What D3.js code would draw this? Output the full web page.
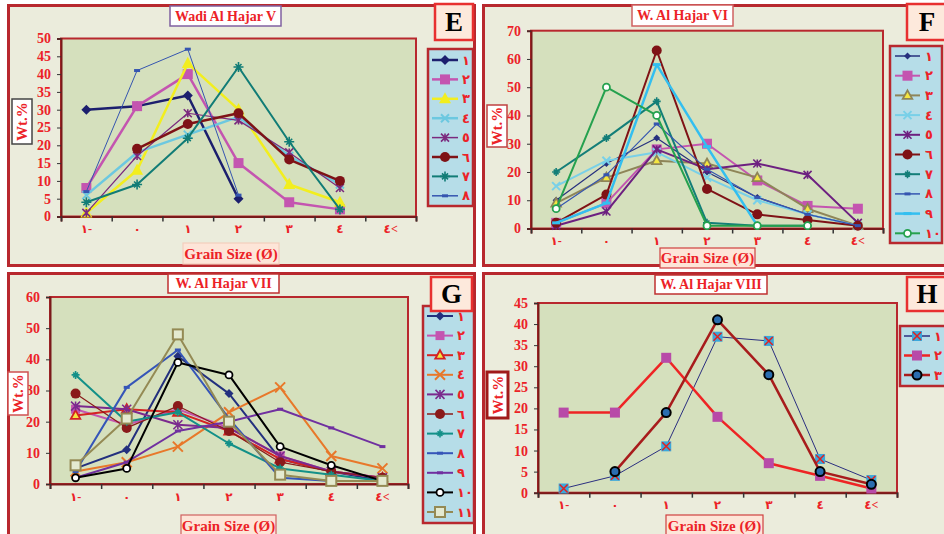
<!DOCTYPE html>
<html><head><meta charset="utf-8">
<script src="https://cdn.jsdelivr.net/npm/d3@7"></script>
<style>body{margin:0;background:#fff;} svg{display:block;}</style>
</head><body>
<svg id="c" width="944" height="534"></svg>
<script>
// ---------------- DATA ----------------
const categories = ["١-","٠","١","٢","٣","٤","٤<"];
const legendLabels = ["١","٢","٣","٤","٥","٦","٧","٨","٩","١٠","١١"];

const yTicksE = [0,5,10,15,20,25,30,35,40,45,50];
const yTicksF = [0,10,20,30,40,50,60,70];
const yTicksG = [0,10,20,30,40,50,60];
const yTicksH = [0,5,10,15,20,25,30,35,40,45];

const titleE = "Wadi Al Hajar V";
const titleF = "W. Al Hajar VI";
const titleG = "W. Al Hajar  VII";
const titleH = "W. Al Hajar VIII";
const xTitle = "Grain Size (Ø)";
const xTitleH = "Grain  Size (Ø)";
const yTitle = "Wt.%";

const valuesE = [
  [30,31,34,5],
  [8,31,40,15,4,2],
  [1,13,43,30,9,4],
  [6,18,23,28,17,9],
  [1,17,29,27,18,8],
  [null,19,26,29,16,10],
  [4,9,22,42,21,2],
  [7,41,47,6]
];
const valuesF = [
  [10,23,32,20,11,5,1],
  [2,9,28,30,17,8,7],
  [9,18,24,23,18,7,1],
  [15,24,27,18,10,5,1],
  [1,6,28,21,23,19,2],
  [2,12,63,14,5,3,1],
  [20,32,45,2,1,1],
  [7,19,37,21,11,5,1],
  [2,9,58,29,1],
  [7,50,40,1,1,1]
];
const valuesG = [
  [5,11,41,29,8,4,1],
  [24,19,24,18,9,4,2],
  [22,24,23,17,8,4,2],
  [4,7,12,23,31,9,5],
  [25,24,19,18,9,4,2],
  [29,18,25,17,7,4,2],
  [35,20,23,13,5,3,1],
  [4,31,43,21,2,1,1],
  [2,7,17,20,24,18,12],
  [2,5,39,35,12,6,1],
  [6,21,48,20,3,1,1]
];
const valuesH = [
  [1,4,11,37,36,8,3],
  [19,19,32,18,7,4,1],
  [null,5,19,41,28,5,2]
];

// ---------------- STYLES ----------------
const stylesE = [
  {c:'#1c1f6e',w:2.5,m:'diamond',r:5},
  {c:'#c455b0',w:2.5,m:'square',r:5},
  {c:'#f2ee1e',w:2.5,m:'triangle',r:6},
  {c:'#6cc8e0',w:2.5,m:'x',r:4},
  {c:'#7b2a7e',w:1.2,m:'asterisk',r:4},
  {c:'#7f1216',w:2.5,m:'circle',r:5},
  {c:'#117c76',w:2,m:'plus',r:5},
  {c:'#3555b0',w:1,m:'dash',r:3}
];
const stylesF = [
  {c:'#26307e',w:1.2,m:'diamond',r:3.5},
  {c:'#c455b0',w:2,m:'square',r:5},
  {c:'#8e8558',w:2,m:'tri_y',r:5},
  {c:'#78d0e8',w:2,m:'x',r:4},
  {c:'#6d2080',w:2,m:'asterisk',r:4},
  {c:'#7f1216',w:2,m:'circle',r:5},
  {c:'#137e78',w:2,m:'plus',r:4},
  {c:'#3555b0',w:1.2,m:'dash',r:3},
  {c:'#33bff0',w:2.5,m:'dash',r:4},
  {c:'#25a14e',w:2,m:'opencircle',r:3.5}
];
const stylesG = [
  {c:'#23307e',w:2,m:'diamond',r:4.5},
  {c:'#c455b0',w:2,m:'square',r:4.5},
  {c:'#d42323',w:2,m:'tri_y',r:5},
  {c:'#e8782a',w:2,m:'x',r:5},
  {c:'#7b2a8e',w:2,m:'asterisk',r:4.5},
  {c:'#8a1a1a',w:1.2,m:'circle',r:5},
  {c:'#139088',w:2,m:'plus',r:4},
  {c:'#3555b8',w:2,m:'dash',r:3},
  {c:'#7030a0',w:2,m:'dash',r:3},
  {c:'#000000',w:2,m:'opencircle',r:3.5},
  {c:'#948a54',w:2,m:'opensquare',r:5}
];
const stylesH = [
  {c:'#2b2f80',w:1,m:'xsquare',r:5},
  {c:'#ee2424',w:2.5,m:'square',r:5,mc:'#b84aa8'},
  {c:'#a81c1c',w:2.5,m:'bluecircle',r:4.5}
];

const SERIF = "'Liberation Serif','Times New Roman','DejaVu Serif','DejaVu Sans',serif";
const RED = '#ec2227';
const BORDER = '#b8282e';

const panels = [
  {box:[7,4,469,263], plot:{l:61,r:416,t:38.5,b:216.5}, yMax:50, yTicks:yTicksE, values:valuesE, styles:stylesE,
   title:titleE, titleBox:[170,6,111,20,'#8060a0'], letter:'E', letterBox:[435,4,38,36],
   legend:{box:[428,49,45,157], y0:60, step:19.4, x1:432, x2:458, lx:462},
   yBox:[12,99,20,45,'#444444',1.5], xBox:[183,243,96,21,'#f3cdbd'], xText:xTitle},
  {box:[482,4,470,263], plot:{l:531,r:883,t:30.7,b:228.5}, yMax:70, yTicks:yTicksF, values:valuesF, styles:stylesF,
   title:titleF, titleBox:[632,5,101,21,'#d06060'], letter:'F', letterBox:[907,4,40,36],
   legend:{box:[890,46,52,197], y0:56, step:19.7, x1:895, x2:920, lx:925},
   yBox:[487,105,20,42,'#c04040',1.5], xBox:[660,248,95,20,'#d04040'], xText:xTitle},
  {box:[7,272,469,266], plot:{l:50,r:408,t:297,b:484}, yMax:60, yTicks:yTicksG, values:valuesG, styles:stylesG,
   title:titleG, titleBox:[168,274,111,19,'#c03030'], letter:'G', letterBox:[431,277,41,34],
   legend:{box:[423,306,51,217], y0:316, step:19.6, x1:427, x2:453, lx:457},
   yBox:[8,372,20,43,'#d05050',1.5], xBox:[181,515,95,22,'#d06060'], xText:xTitle},
  {box:[482,272,470,266], plot:{l:538,r:897,t:303,b:492.7}, yMax:45, yTicks:yTicksH, values:valuesH, styles:stylesH,
   title:titleH, titleBox:[655,275,112,19,'#c03030'], letter:'H', letterBox:[907,277,40,34],
   legend:{box:[900,326,46,60], y0:336, step:19.5, x1:904, x2:930, lx:934},
   yBox:[487,372,21,46,'#a01a1a',3], xBox:[666,515,97,22,'#d04040'], xText:xTitleH}
];

function mark(g, s, cx, cy) {
  const c = s.mc || s.c, r = s.r;
  switch (s.m) {
    case 'diamond':
      g.append('path').attr('d',`M${cx},${cy-r}L${cx+r},${cy}L${cx},${cy+r}L${cx-r},${cy}Z`).attr('fill',c); break;
    case 'square':
      g.append('rect').attr('x',cx-r).attr('y',cy-r).attr('width',2*r).attr('height',2*r).attr('fill',c); break;
    case 'triangle':
      g.append('path').attr('d',`M${cx},${cy-r*1.1}L${cx+r},${cy+r*0.75}L${cx-r},${cy+r*0.75}Z`).attr('fill',c); break;
    case 'tri_y':
      g.append('path').attr('d',`M${cx},${cy-r*1.0}L${cx+r*0.95},${cy+r*0.7}L${cx-r*0.95},${cy+r*0.7}Z`).attr('fill','#f4e640').attr('stroke',c).attr('stroke-width',1.8); break;
    case 'circle':
      g.append('circle').attr('cx',cx).attr('cy',cy).attr('r',r).attr('fill',c); break;
    case 'x':
      g.append('path').attr('d',`M${cx-r},${cy-r}L${cx+r},${cy+r}M${cx-r},${cy+r}L${cx+r},${cy-r}`).attr('stroke',c).attr('stroke-width',2).attr('fill','none'); break;
    case 'asterisk':
      g.append('path').attr('d',`M${cx-r},${cy-r}L${cx+r},${cy+r}M${cx-r},${cy+r}L${cx+r},${cy-r}M${cx},${cy-r}L${cx},${cy+r}`).attr('stroke',c).attr('stroke-width',1.6).attr('fill','none'); break;
    case 'plus':
      g.append('path').attr('d',`M${cx-r},${cy}L${cx+r},${cy}M${cx},${cy-r}L${cx},${cy+r}M${cx-r*0.6},${cy-r*0.6}L${cx+r*0.6},${cy+r*0.6}M${cx-r*0.6},${cy+r*0.6}L${cx+r*0.6},${cy-r*0.6}`).attr('stroke',c).attr('stroke-width',1.6).attr('fill','none'); break;
    case 'dash':
      g.append('path').attr('d',`M${cx-r},${cy}L${cx+r},${cy}`).attr('stroke',c).attr('stroke-width',3).attr('fill','none'); break;
    case 'opencircle':
      g.append('circle').attr('cx',cx).attr('cy',cy).attr('r',r).attr('fill','#ffffff').attr('stroke',c).attr('stroke-width',1.8); break;
    case 'opensquare':
      g.append('rect').attr('x',cx-r).attr('y',cy-r).attr('width',2*r).attr('height',2*r).attr('fill','#e4ead0').attr('stroke',c).attr('stroke-width',2); break;
    case 'xsquare':
      g.append('rect').attr('x',cx-r).attr('y',cy-r).attr('width',2*r).attr('height',2*r).attr('fill','#3aa8dc');
      g.append('path').attr('d',`M${cx-r+1},${cy-r+1}L${cx+r-1},${cy+r-1}M${cx-r+1},${cy+r-1}L${cx+r-1},${cy-r+1}`).attr('stroke','#e02020').attr('stroke-width',1.5); break;
    case 'bluecircle':
      g.append('circle').attr('cx',cx).attr('cy',cy).attr('r',r).attr('fill','#2a6db0').attr('stroke','#000').attr('stroke-width',2); break;
  }
}

function boxText(g, b, fill, txt, size, color, rotate) {
  g.append('rect').attr('x',b[0]).attr('y',b[1]).attr('width',b[2]).attr('height',b[3])
    .attr('fill',fill).attr('stroke',b[4]).attr('stroke-width',b[5]||1.5);
  const cx = b[0]+b[2]/2, cy = b[1]+b[3]/2;
  const t = g.append('text').attr('x',cx).attr('y',cy).attr('text-anchor','middle').attr('dominant-baseline','central')
    .attr('font-family',SERIF).attr('font-weight','bold').attr('font-size',size).attr('fill',color).text(txt);
  if (rotate) t.attr('transform',`rotate(-90,${cx},${cy})`);
}

const svg = d3.select('#c');
svg.append('rect').attr('width',944).attr('height',534).attr('fill','#ffffff');

panels.forEach(p => {
  const g = svg.append('g');
  g.append('rect').attr('x',p.box[0]+1.5).attr('y',p.box[1]+1.5).attr('width',p.box[2]-3).attr('height',p.box[3]-3)
    .attr('fill','#ebecdc').attr('stroke',BORDER).attr('stroke-width',3);

  const x = d3.scaleBand().domain(categories).range([p.plot.l,p.plot.r]);
  const xl = d3.scaleLinear().domain([0,categories.length]).range([p.plot.l,p.plot.r]);
  const y = d3.scaleLinear().domain([0,p.yMax]).range([p.plot.b,p.plot.t]);

  g.append('rect').attr('x',p.plot.l).attr('y',p.plot.t).attr('width',p.plot.r-p.plot.l).attr('height',p.plot.b-p.plot.t)
    .attr('fill','#d5e0bd').attr('stroke',BORDER).attr('stroke-width',2);

  const ya = g.append('g').attr('transform',`translate(${p.plot.l},0)`)
    .call(d3.axisLeft(y).tickValues(p.yTicks).tickSize(4).tickPadding(6));
  ya.select('.domain').attr('stroke','#7a1a1a').attr('stroke-width',2);
  ya.selectAll('.tick line').attr('stroke','#333');
  ya.selectAll('text').attr('font-family',SERIF).attr('font-weight','bold').attr('font-size',14).attr('fill',RED);

  const xa = g.append('g').attr('transform',`translate(0,${p.plot.b})`)
    .call(d3.axisBottom(xl).tickValues(d3.range(categories.length+1)).tickSize(5).tickFormat(''));
  xa.select('.domain').attr('stroke','#7a1a1a').attr('stroke-width',2);
  xa.selectAll('.tick line').attr('stroke','#333').attr('stroke-width',1.5);

  const xb = g.append('g').attr('transform',`translate(0,${p.plot.b})`)
    .call(d3.axisBottom(x).tickSize(0).tickPadding(8));
  xb.select('.domain').remove();
  xb.selectAll('text').attr('font-family',SERIF).attr('font-weight','bold').attr('font-size',12).attr('fill',RED).attr('direction','ltr');

  const px = i => x(categories[i]) + x.bandwidth()/2;
  const line = d3.line().defined(d => d != null).x((d,i) => px(i)).y(d => y(d));
  p.values.forEach((vals, si) => {
    const s = p.styles[si];
    const sg = g.append('g');
    sg.append('path').datum(vals).attr('d', line).attr('fill','none').attr('stroke',s.c).attr('stroke-width',s.w).attr('stroke-linejoin','round');
    vals.forEach((v,i) => { if (v != null) mark(sg, s, px(i), y(v)); });
  });

  // legend
  const L = p.legend;
  g.append('rect').attr('x',L.box[0]).attr('y',L.box[1]).attr('width',L.box[2]).attr('height',L.box[3])
    .attr('fill','#b6dde8').attr('stroke',BORDER).attr('stroke-width',2.5);
  p.styles.forEach((s, i) => {
    const ly = L.y0 + i*L.step;
    const lg = g.append('g');
    lg.append('line').attr('x1',L.x1).attr('x2',L.x2).attr('y1',ly).attr('y2',ly).attr('stroke',s.c).attr('stroke-width',Math.max(s.w,1.5));
    mark(lg, s, (L.x1+L.x2)/2, ly);
    lg.append('text').attr('x',L.lx).attr('y',ly).attr('dominant-baseline','central')
      .attr('font-family',SERIF).attr('font-weight','bold').attr('font-size',13).attr('fill',RED).text(legendLabels[i]);
  });

  // title, letter, axis titles
  boxText(g, p.titleBox.concat([1.5]), '#ffffff', p.title, 14, RED);
  boxText(g, p.letterBox.concat(['#e83030',2.5]), '#fde9dc', p.letter, 27, '#000000');
  boxText(g, p.yBox, '#ffffff', yTitle, 15, RED, true);
  boxText(g, p.xBox.concat([1.2]), '#fde5d8', p.xText, 15, RED);
});
</script>
</body></html>
